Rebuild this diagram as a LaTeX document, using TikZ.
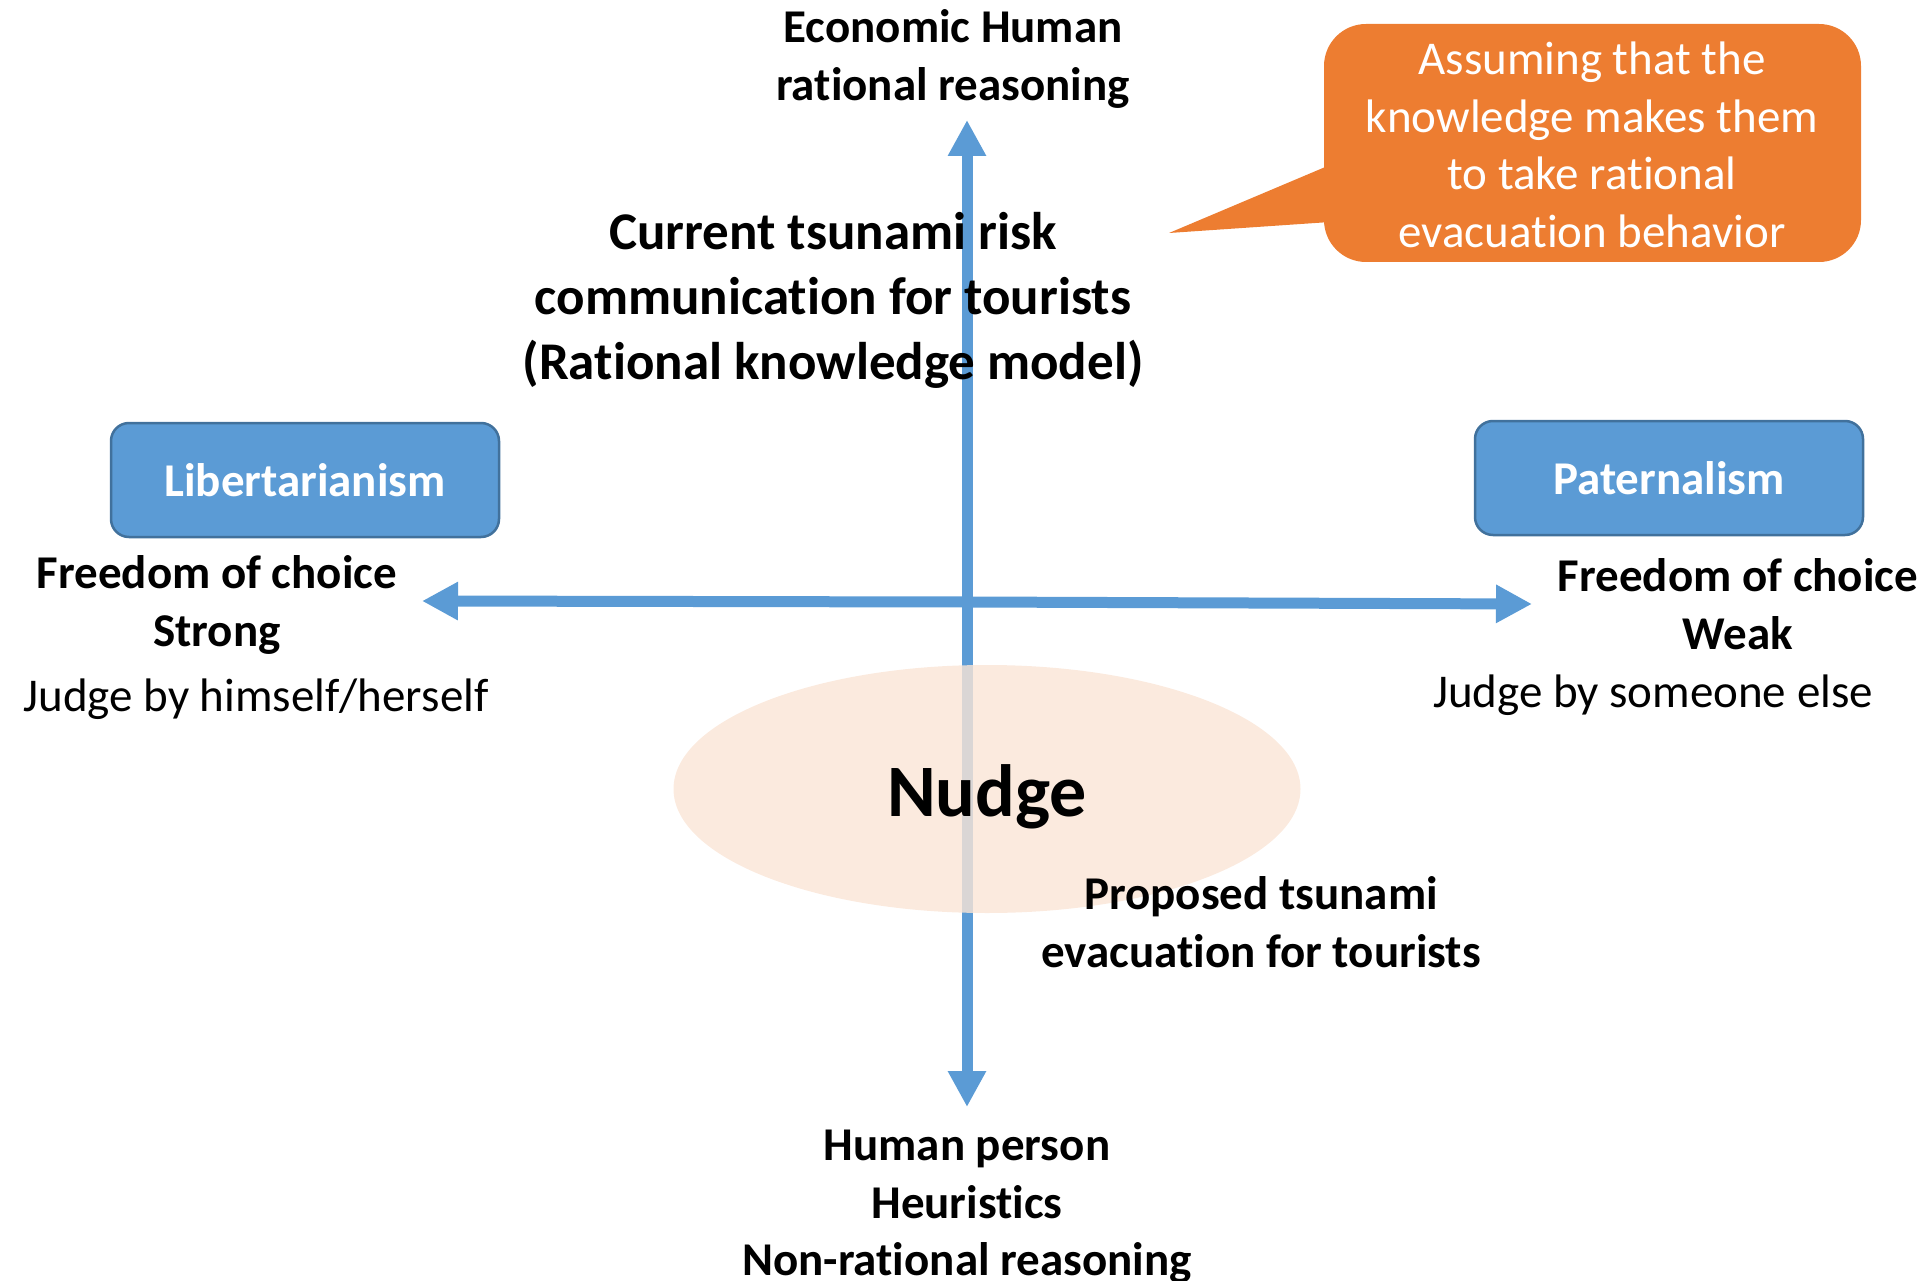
\documentclass[tikz,border=0pt]{standalone}
\usepackage{fontspec}
\setmainfont{Carlito}[Ligatures={NoCommon}]
\usetikzlibrary{arrows.meta,shapes.geometric}
\definecolor{axisblue}{RGB}{91,155,213}
\definecolor{boxedge}{RGB}{65,113,156}
\definecolor{callout}{RGB}{237,125,49}
\definecolor{peach}{RGB}{250,229,214}
\tikzset{
  lbl/.style={align=center, font=\fontsize{47}{57.5}\selectfont\bfseries, inner sep=0pt},
  lblreg/.style={align=center, font=\fontsize{47}{57.5}\selectfont, inner sep=0pt},
  bigl/.style={align=center, font=\fontsize{53}{65}\selectfont\bfseries, inner sep=0pt},
  bluebox/.style={draw=boxedge, line width=2.5pt, fill=axisblue, rounded corners=18pt, text=white,
    font=\fontsize{47}{56}\selectfont\bfseries, minimum width=388pt, minimum height=114pt},
  axisarrow/.style={draw=axisblue, line width=11pt, -{Triangle[width=36pt,length=36pt]}},
}
\begin{document}
\begin{tikzpicture}[x=1pt,y=-1pt]
\useasboundingbox (0,0) rectangle (1920,1281);
% axes
\coordinate (c) at (967,602);
\coordinate (top) at (967,120);
\coordinate (bot) at (967,1107);
\coordinate (left) at (422,601);
\coordinate (right) at (1532,604);
\draw[axisarrow] (c) -- (top);
\draw[axisarrow] (c) -- (bot);
\draw[axisarrow] (c) -- (left);
\draw[axisarrow] (c) -- (right);
% nudge ellipse
\node[ellipse, fill=peach, fill opacity=0.8, minimum width=627pt, minimum height=248pt, inner sep=0pt] (ell) at (987,789) {};
\node[font=\fontsize{74}{80}\selectfont\bfseries, inner sep=0pt] (nudge) at (987,797) {Nudge};
% callout
\fill[callout, rounded corners=42pt] (1324,24) rectangle (1861,262);
\fill[callout] (1330,165) -- (1169,233) -- (1330,222) -- cycle;
\node[lblreg, text=white] (call) at (1592,145) {Assuming that the\\knowledge makes them\\to take rational\\evacuation behavior};
% top / bottom labels
\node[lbl] (econ) at (953,59) {Economic Human\\rational reasoning};
\node[lbl] (human) at (967,1207) {Human person\\Heuristics\\Non-rational reasoning};
\node[bigl] (current) at (833,300) {Current tsunami risk\\communication for tourists\\(Rational knowledge model)};
\node[lbl] (prop) at (1261,922) {Proposed tsunami\\evacuation for tourists};
% boxes
\node[bluebox] (lib) at (305,480) {Libertarianism};
\node[bluebox] (pat) at (1669,478) {Paternalism};
% side labels
\node[lbl] (lfree) at (217,605) {Freedom of choice\\Strong};
\node[lblreg] (ljudge) at (256,699) {Judge by himself/herself};
\node[lbl] (rfree) at (1738,604) {Freedom of choice\\Weak};
\node[lblreg] (rjudge) at (1653,695) {Judge by someone else};
\end{tikzpicture}
\end{document}
